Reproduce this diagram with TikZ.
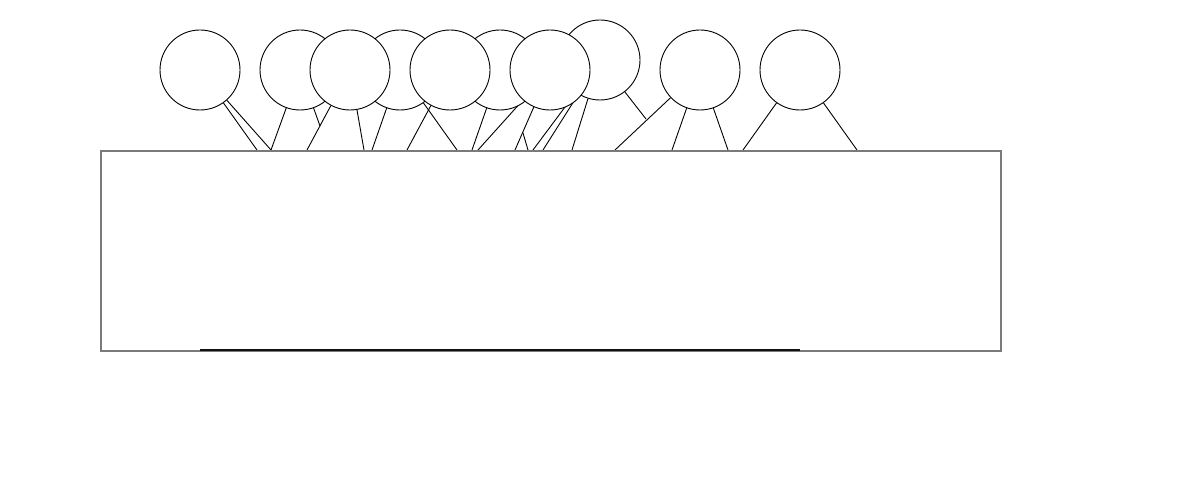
\documentclass[tikz,border=0pt]{standalone}
\usepackage{tikz}
\usetikzlibrary{calc,arrows.meta}
\usetikzlibrary{positioning}
\definecolor{tb-edge}{HTML}{7A7A7A}
\definecolor{tb-line}{HTML}{000000}

\begin{document}
\begin{tikzpicture}[x=1pt, y=-1pt, >=latex,
    head/.style={circle, draw=tb-line, fill=white, line width=0.9pt, minimum size=80pt, inner sep=0pt},
    limb/.style={tb-line, line width=0.9pt},
    board/.style={draw=tb-edge, line width=1.7pt}]

    % Moldura da imagem
    \useasboundingbox (0,0) rectangle (1200,500);

    % --- CABECAS (posicoes apenas, desenhadas depois das linhas) ---
    \coordinate (p1) at (200,70);
    \coordinate (p2) at (300,70);
    \coordinate (p3) at (350,70);
    \coordinate (p4) at (400,70);
    \coordinate (p5) at (450,70);
    \coordinate (p6) at (500,70);
    \coordinate (p7) at (550,70);
    \coordinate (p8) at (600,60);
    \coordinate (p9) at (700,70);
    \coordinate (p10) at (800,70);

    % Pontos de apoio no topo da mesa
    \foreach \x in {257,271,307,364,372,407,457,472,478,515,528,533,543,572,615,672,728,743,857}
        \coordinate (f\x) at (\x,150);
    \coordinate (d2) at (320,126);
    \coordinate (m6) at (523,133);
    \coordinate (s8) at (646,119);

    % --- CORPOS (linhas por baixo das cabecas) ---
    \node[head, draw=none, fill=none] (c1) at (p1) {};
    \node[head, draw=none, fill=none] (c2) at (p2) {};
    \node[head, draw=none, fill=none] (c3) at (p3) {};
    \node[head, draw=none, fill=none] (c4) at (p4) {};
    \node[head, draw=none, fill=none] (c5) at (p5) {};
    \node[head, draw=none, fill=none] (c6) at (p6) {};
    \node[head, draw=none, fill=none] (c7) at (p7) {};
    \node[head, draw=none, fill=none] (c8) at (p8) {};
    \node[head, draw=none, fill=none] (c9) at (p9) {};
    \node[head, draw=none, fill=none] (c10) at (p10) {};

    \draw[limb] (c1) -- (f257);
    \draw[limb] (c1) -- (f271);
    \draw[limb] (c2) -- (f271);
    \draw[limb] (c2) -- (d2);
    \draw[limb] (c3) -- (f307);
    \draw[limb] (c3) -- (f364);
    \draw[limb] (c4) -- (f372);
    \draw[limb] (c4) -- (f457);
    \draw[limb] (c5) -- (f407);
    \draw[limb] (c6) -- (f472);
    \draw[limb] (m6) -- (f528);
    \draw[limb] (c7) -- (f478);
    \draw[limb] (c7) -- (f515);
    \draw[limb] (c8) -- (f533);
    \draw[limb] (c8) -- (f543);
    \draw[limb] (c8) -- (f572);
    \draw[limb] (c8) -- (s8);
    \draw[limb] (c9) -- (f615);
    \draw[limb] (c9) -- (f672);
    \draw[limb] (c9) -- (f728);
    \draw[limb] (c10) -- (f743);
    \draw[limb] (c10) -- (f857);

    % --- CABECAS: fila de tras primeiro, depois a da frente ---
    \node[head] (h2) at (p2) {};
    \node[head] (h4) at (p4) {};
    \node[head] (h6) at (p6) {};
    \node[head] (h8) at (p8) {};
    \node[head] (h1) at (p1) {};
    \node[head] (h3) at (p3) {};
    \node[head] (h5) at (p5) {};
    \node[head] (h7) at (p7) {};
    \node[head] (h9) at (p9) {};
    \node[head] (h10) at (p10) {};

    % --- MESA ---
    \node[board, minimum width=900pt, minimum height=200pt, inner sep=0pt, anchor=north west] (mesa) at (100,150) {};
    \coordinate (b1) at (200,350);
    \coordinate (b2) at (800,350);
    \draw[tb-line!85!tb-edge, line width=1.3pt] (b1) -- (b2);

\end{tikzpicture}
\end{document}
